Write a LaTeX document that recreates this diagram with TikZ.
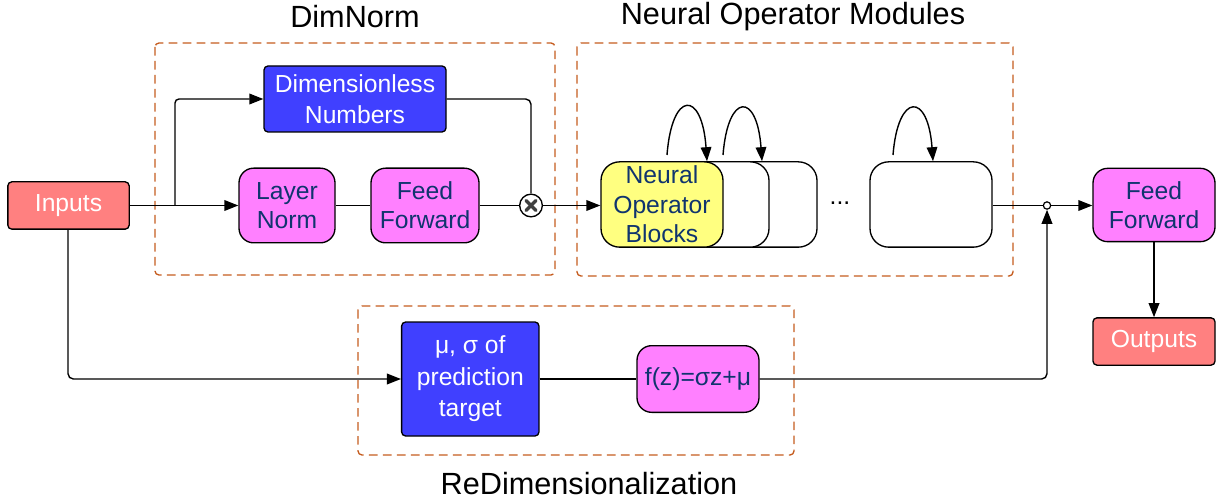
\documentclass[tikz,border=0pt]{standalone}
\usepackage{fontspec}
\setmainfont{Liberation Sans}
\usetikzlibrary{arrows.meta,calc}
\definecolor{salmon}{RGB}{255,128,128}
\definecolor{bblue}{RGB}{64,64,255}
\definecolor{magent}{RGB}{255,128,255}
\definecolor{yell}{RGB}{255,255,128}
\definecolor{dorange}{RGB}{197,92,30}
\definecolor{dtext}{RGB}{16,52,110}
\tikzset{
  conn/.style={line width=1.05pt, draw=black},
  arr/.style={conn, -{Triangle[length=10.5pt,width=8pt]}},
  boxbase/.style={draw=black, line width=1pt, inner sep=0pt, align=center,
    font=\fontsize{18.5}{22}\selectfont},
  redbox/.style={boxbase, fill=salmon, text=white, rounded corners=3pt},
  bluebox/.style={boxbase, fill=bblue, text=white, rounded corners=3pt},
  pinkbox/.style={boxbase, fill=magent, text=dtext, rounded corners=11pt},
  nobbox/.style={boxbase, fill=yell, text=dtext, rounded corners=14pt},
  whitebox/.style={boxbase, fill=white, rounded corners=14pt},
  group/.style={draw=dorange, line width=1pt, dash pattern=on 6.5pt off 4pt, rounded corners=3pt},
  title/.style={font=\fontsize{23}{27}\selectfont, text=black},
}
\begin{document}
\begin{tikzpicture}[x=0.75pt,y=-0.75pt]
\useasboundingbox (0,0) rectangle (1220,502);
% groups
\draw[group] (155,43) rectangle (555,275);
\draw[group] (577,43) rectangle (1013,276);
\draw[group] (358,306) rectangle (794,455);
\node[title] (tdn) at (355,17) {DimNorm};
\node[title] (tnom) at (793,17) {Neural Operator Modules};
\node[title] (trd) at (589,484) {ReDimensionalization};
% nodes
\node[redbox, minimum width=91pt, minimum height=35.5pt] (inputs) at (68.5,205.5) {Inputs};
\node[bluebox, minimum width=136.5pt, minimum height=49.5pt, font=\fontsize{18.5}{23}\selectfont] (dimless) at (355,99) {Dimensionless\\Numbers};
\node[pinkbox, minimum width=72pt, minimum height=56pt] (lnorm) at (287,205.5) {Layer\\Norm};
\node[pinkbox, minimum width=81pt, minimum height=56pt] (ff1) at (425,205.5) {Feed\\Forward};
\node[draw=black, line width=1pt, circle, fill=white, minimum size=17pt, inner sep=0pt] (mult) at (531,205.5) {};
\draw[line width=2.6pt, draw=black!75, line cap=round] ($(mult.center)+(-5,-5)$) -- ($(mult.center)+(5,5)$);
\draw[line width=2.6pt, draw=black!75, line cap=round] ($(mult.center)+(-5,5)$) -- ($(mult.center)+(5,-5)$);
% neural operator blocks
\node[whitebox, minimum width=91.5pt, minimum height=64pt] (b3) at (756,204.5) {};
\node[whitebox, minimum width=91.5pt, minimum height=64pt] (b2) at (708,204.5) {};
\node[nobbox, minimum width=91.5pt, minimum height=64pt] (nob) at (662,204.5) {Neural\\Operator\\Blocks};
\node[whitebox, minimum width=91.5pt, minimum height=64pt] (blast) at (931,204.5) {};
\node[font=\fontsize{18.5}{22}\selectfont] (dots) at (840,203) {...};
\node[draw=black, line width=0.9pt, circle, fill=white, minimum size=5.5pt, inner sep=0pt] (junc) at (1047,205.5) {};
\node[pinkbox, minimum width=91.5pt, minimum height=55pt] (ff2) at (1154,205) {Feed\\Forward};
\node[redbox, minimum width=91.5pt, minimum height=35.5pt] (outputs) at (1154,341.5) {Outputs};
\node[bluebox, minimum width=103pt, minimum height=85.5pt, font=\fontsize{18.5}{23.6}\selectfont] (musig) at (470.3,379) {μ, σ of\\prediction\\target};
\node[pinkbox, minimum width=91.5pt, minimum height=50pt] (fz) at (698,379) {f(z)=σz+μ};
% connectors
\coordinate (br) at (175,205.5);
\draw[arr] (inputs.east |- br) -- (lnorm.west);
\draw[arr, rounded corners=3pt] (br) -- (175,99) -- (dimless.west);
\draw[conn] (lnorm.east) -- (ff1.west);
\draw[conn] (ff1.east) -- (mult.west);
\draw[conn, rounded corners=4pt] (dimless.east) -- (mult.north |- dimless.east) -- (mult.north);
\draw[arr] (mult.east) -- (nob.west |- mult.east);
\draw[conn] (blast.east |- junc.west) -- (junc.west);
\draw[arr] (junc.east) -- (ff2.west |- junc.east);
\draw[arr] (ff2.south) -- (outputs.north);
\draw[arr, rounded corners=4pt] (inputs.south -| 68,0) -- (68,379) -- (musig.west);
\draw[conn] (musig.east) -- (fz.west);
\draw[arr, rounded corners=4pt] (fz.east) -- (1047,379) -- (junc.south);
% loops
\coordinate (l1s) at (667,155);
\coordinate (l2s) at (723,155);
\coordinate (l3s) at (893,155);
\draw[arr] (l1s) .. controls (672,90) and (702,90) .. (nob.north -| 707,0);
\draw[arr] (l2s) .. controls (728,92) and (757,92) .. (b2.north -| 762,0);
\draw[arr] (l3s) .. controls (898,92) and (928,92) .. (blast.north -| 933,0);
\end{tikzpicture}
\end{document}
